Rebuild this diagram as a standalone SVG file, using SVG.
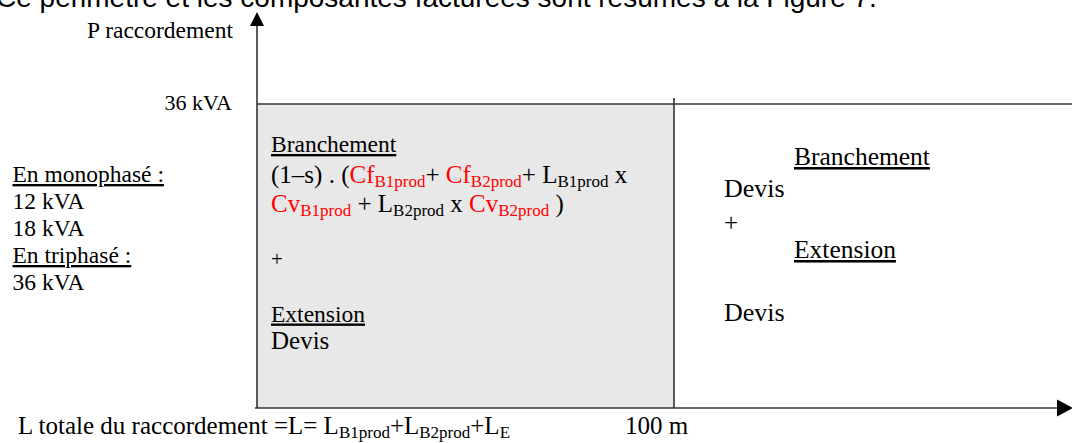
<svg xmlns="http://www.w3.org/2000/svg" width="1072" height="443" viewBox="0 0 1072 443">
<style>
.t{font-family:"Liberation Serif","Times New Roman",serif;fill:#000}
.a{font-family:"Liberation Sans",Arial,sans-serif;fill:#000}
.r{fill:#ff0000}
.u{text-decoration:underline}
.ax{stroke:#333;stroke-width:1.6;fill:none}
</style>
<rect width="1072" height="443" fill="#fff"/>
<text class="a" x="-4" y="7" font-size="28">Ce périmètre et les composantes facturées sont résumés à la Figure 7.</text>

<g id="zone-gauche">
<rect x="257" y="104" width="417" height="304" fill="#e8e8e8"/>
<text class="t u" x="271" y="152" font-size="23.5">Branchement</text>
<text class="t" y="183" font-size="25"><tspan x="271">(1–s) . (</tspan><tspan class="r">Cf</tspan><tspan class="r" font-size="17" dy="4">B1prod</tspan><tspan dy="-4">+ </tspan><tspan class="r">Cf</tspan><tspan class="r" font-size="17" dy="4">B2prod</tspan><tspan dy="-4">+ L</tspan><tspan font-size="17" dy="4">B1prod</tspan><tspan dy="-4"> x</tspan></text>
<text class="t" y="212" font-size="25"><tspan x="271" class="r">Cv</tspan><tspan class="r" font-size="17" dy="4">B1prod</tspan><tspan dy="-4"> + L</tspan><tspan font-size="17" dy="4">B2prod</tspan><tspan dy="-4"> x </tspan><tspan class="r">Cv</tspan><tspan class="r" font-size="17" dy="4">B2prod</tspan><tspan dy="-4"> )</tspan></text>
<text class="t" x="271" y="266" font-size="21">+</text>
<text class="t u" x="271" y="321.5" font-size="23.5">Extension</text>
<text class="t" x="271" y="349" font-size="25">Devis</text>
</g>

<g id="zone-droite">
<text class="t u" x="794" y="165" font-size="25.5">Branchement</text>
<text class="t" x="724" y="197" font-size="26">Devis</text>
<text class="t" x="724" y="231" font-size="25">+</text>
<text class="t u" x="794" y="258" font-size="25.5">Extension</text>
<text class="t" x="724" y="321" font-size="26">Devis</text>
</g>

<g id="legende-puissance">
<text class="t u" x="12.5" y="182" font-size="23.5">En monophasé :</text>
<text class="t" x="12.5" y="209" font-size="23.5">12 kVA</text>
<text class="t" x="12.5" y="236" font-size="23.5">18 kVA</text>
<text class="t u" x="12.5" y="263" font-size="23.5">En triphasé :</text>
<text class="t" x="12.5" y="290" font-size="23.5">36 kVA</text>
</g>

<g id="labels-axes">
<text class="t" x="233" y="38" font-size="23.5" text-anchor="end">P raccordement</text>
<text class="t" x="232" y="109.5" font-size="22" text-anchor="end">36 kVA</text>
<text class="t" x="18" y="434" font-size="25">L totale du raccordement =L= L<tspan font-size="17" dy="4">B1prod</tspan><tspan dy="-4">+L</tspan><tspan font-size="17" dy="4">B2prod</tspan><tspan dy="-4">+L</tspan><tspan font-size="17" dy="4">E</tspan></text>
<text class="t" x="625" y="434" font-size="25">100 m</text>
</g>

<g id="connecteurs">
<line class="ax" x1="257" y1="408" x2="257" y2="26"/>
<path d="M257,12 L250,26 L264,26 Z" fill="#000"/>
<line class="ax" x1="255" y1="408" x2="1058" y2="408"/>
<path d="M1073,408 L1057,399.5 L1057,416.5 Z" fill="#000"/>
<line class="ax" x1="257" y1="104" x2="1072" y2="104"/>
<line class="ax" x1="674" y1="98" x2="674" y2="408"/>
</g>
</svg>
